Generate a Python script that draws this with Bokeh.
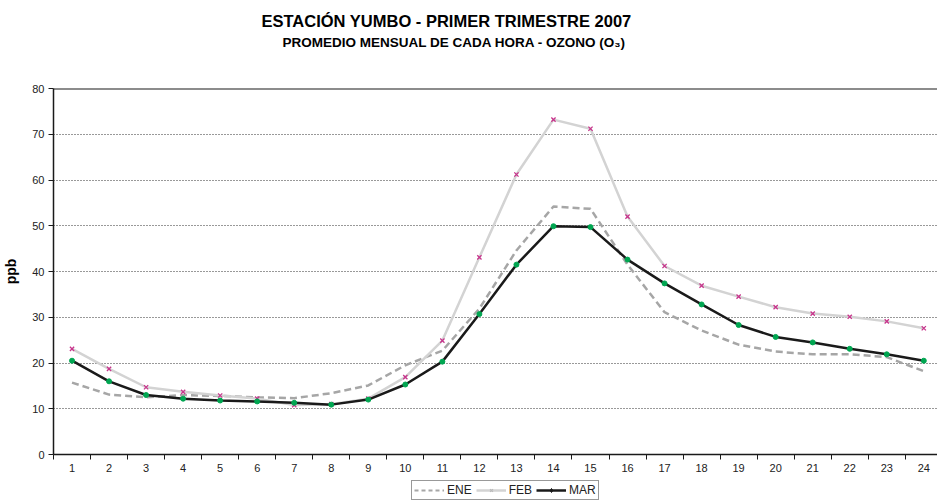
from bokeh.plotting import figure
from bokeh.layouts import column
from bokeh.models import (Range1d, FixedTicker, Title, Span, Legend, LegendItem)
from bokeh.embed import file_html
from bokeh.resources import INLINE

hours = list(range(1, 25))
hour_labels = [str(h) for h in hours]
ene = [15.7, 13.1, 12.5, 13.0, 12.8, 12.5, 12.3, 13.4, 15.1, 19.5, 22.7, 31.9,
       44.6, 54.2, 53.7, 41.5, 31.1, 27.1, 24.0, 22.5, 21.9, 21.9, 21.3, 18.2]
feb = [23.1, 18.7, 14.7, 13.7, 12.9, 12.2, 10.8, 11.0, 12.2, 16.9, 24.9, 43.1,
       61.2, 73.2, 71.2, 52.0, 41.2, 36.9, 34.5, 32.2, 30.8, 30.1, 29.1, 27.6]
mar = [20.5, 16.0, 13.0, 12.2, 11.8, 11.6, 11.3, 10.9, 12.0, 15.3, 20.3, 30.7,
       41.5, 49.9, 49.7, 42.6, 37.4, 32.8, 28.3, 25.7, 24.5, 23.1, 21.9, 20.5]
series_names = ["ENE", "FEB", "MAR"]
y_ticks = [0, 10, 20, 30, 40, 50, 60, 70, 80]

FONT = "Liberation Sans"

p = figure(frame_width=884, frame_height=366, output_backend="svg", toolbar_location=None,
           title=None, x_range=Range1d(0.5, 24.37), y_range=Range1d(0, 80),
           min_border_left=50, min_border_right=0, min_border_bottom=0,
           min_border_top=0)
p.outline_line_color = None
p.background_fill_color = "white"
p.border_fill_color = "white"

# titles (added from the frame outwards)
spacer = Title(text=" ", text_font_size="1px", standoff=34)
sub = Title(text="PROMEDIO MENSUAL DE CADA HORA - OZONO (O₃)", align="left",
            text_font=FONT, text_font_size="13.5px", text_font_style="bold",
            text_color="black", standoff=0, offset=229, vertical_align="top")
main = Title(text="ESTACIÓN YUMBO - PRIMER TRIMESTRE 2007", align="left",
             text_font=FONT, text_font_size="16.5px", text_font_style="bold",
             text_color="black", standoff=6, offset=208, vertical_align="top")
top_spacer = Title(text=" ", text_font_size="1px", standoff=5)
p.add_layout(spacer, "above")
p.add_layout(sub, "above")
p.add_layout(main, "above")
p.add_layout(top_spacer, "above")

# lines
p.line(hours, ene, line_color="#A6A6A6", line_width=2.5, line_dash="7 4")
p.line(hours, feb, line_color="#D3D3D3", line_width=2.5)
p.scatter(hours, feb, marker="x", size=6, line_color="#C8348C", line_width=1.3)
p.line(hours, mar, line_color="#1A1A1A", line_width=2.5)
p.scatter(hours, mar, marker="circle", size=5, fill_color="#00A651", line_color="#00A651")

# top border line
p.add_layout(Span(location=80, dimension="width", line_color="#1A1A1A", line_width=2))

# axes
p.xaxis.ticker = FixedTicker(ticks=hours, minor_ticks=[h + 0.5 for h in range(0, 25)])
p.xaxis.major_label_overrides = {h: lab for h, lab in zip(hours, hour_labels)}
p.xaxis.major_tick_line_color = None
p.xaxis.minor_tick_line_color = "#1A1A1A"
p.xaxis.minor_tick_out = 5
p.xaxis.minor_tick_in = 0
p.xaxis.axis_line_color = "#1A1A1A"
p.xaxis.axis_line_width = 1.5
p.xaxis.major_label_text_font = FONT
p.xaxis.major_label_text_font_size = "11px"
p.xaxis.major_label_text_color = "#222222"
p.xaxis.major_label_standoff = 3

p.yaxis.ticker = FixedTicker(ticks=y_ticks)
p.yaxis.minor_tick_line_color = None
p.yaxis.major_tick_out = 5
p.yaxis.major_tick_in = 0
p.yaxis.major_tick_line_color = "#1A1A1A"
p.yaxis.axis_line_color = "#1A1A1A"
p.yaxis.axis_line_width = 1.5
p.yaxis.major_label_text_font = FONT
p.yaxis.major_label_text_font_size = "11px"
p.yaxis.major_label_text_color = "#222222"
p.yaxis.major_label_standoff = 4
p.yaxis.axis_label = "ppb"
p.yaxis.axis_label_text_font = FONT
p.yaxis.axis_label_text_font_size = "14px"
p.yaxis.axis_label_text_font_style = "bold"
p.yaxis.axis_label_text_color = "black"
p.yaxis.axis_label_standoff = 10

p.xgrid.grid_line_color = None
p.ygrid.ticker = FixedTicker(ticks=[10, 20, 30, 40, 50, 60, 70])
p.ygrid.grid_line_color = "#333333"
p.ygrid.grid_line_dash = "1 2"
p.ygrid.grid_line_width = 1

# legend strip (series drawn out of view so only their legend entries show)
lf = figure(width=934, height=28, output_backend="svg", toolbar_location=None,
            x_range=Range1d(100, 101), y_range=Range1d(1000, 1001),
            x_axis_type=None, y_axis_type=None, min_border=0)
lf.outline_line_color = None
lf.grid.visible = False
g_ene = lf.line(hours, ene, line_color="#A6A6A6", line_width=2, line_dash="4 3")
g_feb = lf.line(hours, feb, line_color="#D3D3D3", line_width=2.5)
g_febm = lf.scatter(hours, feb, marker="x", size=6, line_color="#BBBBBB", line_width=1.3)
g_mar = lf.line(hours, mar, line_color="#1A1A1A", line_width=2.5)
g_marm = lf.scatter(hours, mar, marker="diamond", size=8, fill_color="#1A1A1A",
                    line_color="#1A1A1A")
legend = Legend(items=[
    LegendItem(label=series_names[0], renderers=[g_ene]),
    LegendItem(label=series_names[1], renderers=[g_feb, g_febm]),
    LegendItem(label=series_names[2], renderers=[g_mar, g_marm]),
], orientation="horizontal", location=(358, 2),
    label_text_font=FONT, label_text_font_size="12px", label_text_color="#222222",
    border_line_color="#333333", border_line_width=1, background_fill_color="white",
    glyph_width=30, glyph_height=10, label_standoff=3, spacing=4, padding=2,
    margin=0, label_height=12)
lf.add_layout(legend, "center")

layout = column(p, lf, spacing=0)
open("out.html", "w").write(file_html(layout, INLINE))
